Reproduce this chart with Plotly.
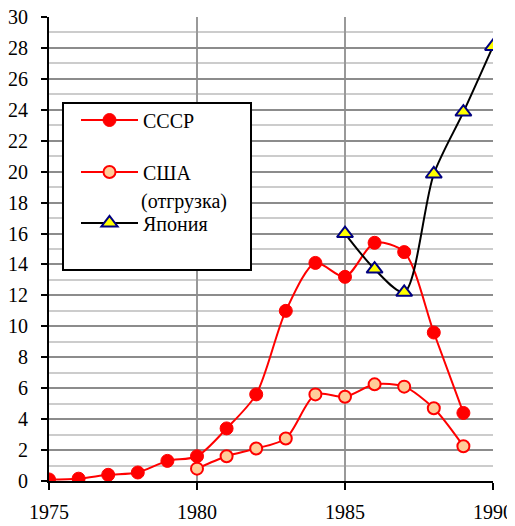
import plotly.graph_objects as go

years_ussr = [1975, 1976, 1977, 1978, 1979, 1980, 1981, 1982, 1983, 1984, 1985, 1986, 1987, 1988, 1989]
ussr = [0.1, 0.15, 0.4, 0.55, 1.3, 1.6, 3.4, 5.6, 11.0, 14.1, 13.2, 15.4, 14.8, 9.6, 4.4]

years_usa = [1980, 1981, 1982, 1983, 1984, 1985, 1986, 1987, 1988, 1989]
usa = [0.8, 1.6, 2.1, 2.75, 5.6, 5.45, 6.25, 6.1, 4.7, 2.25]

years_japan = [1985, 1986, 1987, 1988, 1989, 1990]
japan = [16.0, 13.7, 12.2, 19.85, 23.85, 28.1]

x_ticks = [1975, 1980, 1985, 1990]
y_ticks = list(range(0, 31, 2))

FONT = "Times New Roman, Liberation Serif, DejaVu Serif, serif"
TXT = dict(family=FONT, size=20, color="black")

fig = go.Figure()
fig.add_trace(go.Scatter(
    x=years_ussr, y=ussr, name="СССР", mode="lines+markers",
    line=dict(color="#ff0000", width=2, shape="spline", smoothing=0.8),
    marker=dict(symbol="circle", size=13, color="#ff0000", line=dict(color="#ff0000", width=1)),
    legend="legend",
))
fig.add_trace(go.Scatter(
    x=years_usa, y=usa, name="США", mode="lines+markers",
    line=dict(color="#ff0000", width=2, shape="spline", smoothing=0.8),
    marker=dict(symbol="circle", size=12, color="#ffcc99", line=dict(color="#ff0000", width=2)),
    legend="legend2",
))
fig.add_trace(go.Scatter(
    x=years_japan, y=japan, name="Япония", mode="lines+markers",
    line=dict(color="#000000", width=2, shape="spline", smoothing=0.8),
    marker=dict(symbol="triangle-up", size=14, color="#ffff00", line=dict(color="#000080", width=2)),
    legend="legend3",
))

# page has an 8px body margin, so the figure is drawn 8px right/down
OFF = 8
W, H = 515 - OFF, 526 - OFF
L, R, T, B = 49 - OFF, 22, 17 - OFF, 45
pw, ph = W - L - R, H - T - B

def px(xp):
    return (xp - OFF - L) / pw

def py(yp):
    return (H - B - (yp - OFF)) / ph

leg_common = dict(
    xanchor="left", yanchor="middle", bgcolor="rgba(0,0,0,0)", borderwidth=0,
    font=TXT, itemwidth=57,
)

fig.update_layout(
    width=W, height=H,
    margin=dict(l=L, r=R, t=T, b=B, autoexpand=False),
    paper_bgcolor="white", plot_bgcolor="white",
    showlegend=True,
    legend=dict(x=px(76), y=py(120), **leg_common),
    legend2=dict(x=px(76), y=py(172), **leg_common),
    legend3=dict(x=px(76), y=py(223), **leg_common),
    shapes=[dict(type="rect", xref="paper", yref="paper",
                 x0=px(63), x1=px(251), y0=py(270), y1=py(103),
                 line=dict(color="black", width=2), fillcolor="white", layer="above")],
    annotations=[dict(text="(отгрузка)", xref="paper", yref="paper",
                      x=px(139), y=py(202), xanchor="left", yanchor="middle",
                      showarrow=False, font=TXT)],
    xaxis=dict(
        range=[1975, 1990], tickvals=x_ticks, ticktext=[str(v) for v in x_ticks],
        showgrid=True, gridcolor="#999999", gridwidth=2,
        showline=True, linecolor="black", linewidth=2,
        ticks="outside", ticklen=7, tickwidth=2, tickcolor="black",
        zeroline=False, tickfont=TXT, automargin=False,
        ticklabelstandoff=5, ticklabeloverflow="allow",
    ),
    yaxis=dict(
        range=[0, 30], tickvals=y_ticks, ticktext=[str(v) for v in y_ticks],
        showgrid=True, gridcolor="#8c8c8c", gridwidth=2,
        minor=dict(dtick=1, showgrid=True, gridcolor="#cccccc", gridwidth=2),
        showline=True, linecolor="black", linewidth=2,
        ticks="outside", ticklen=6, tickwidth=2, tickcolor="black",
        zeroline=False, tickfont=TXT, automargin=False,
        ticklabelstandoff=9, ticklabeloverflow="allow",
    ),
)

fig.write_html("out.html")
